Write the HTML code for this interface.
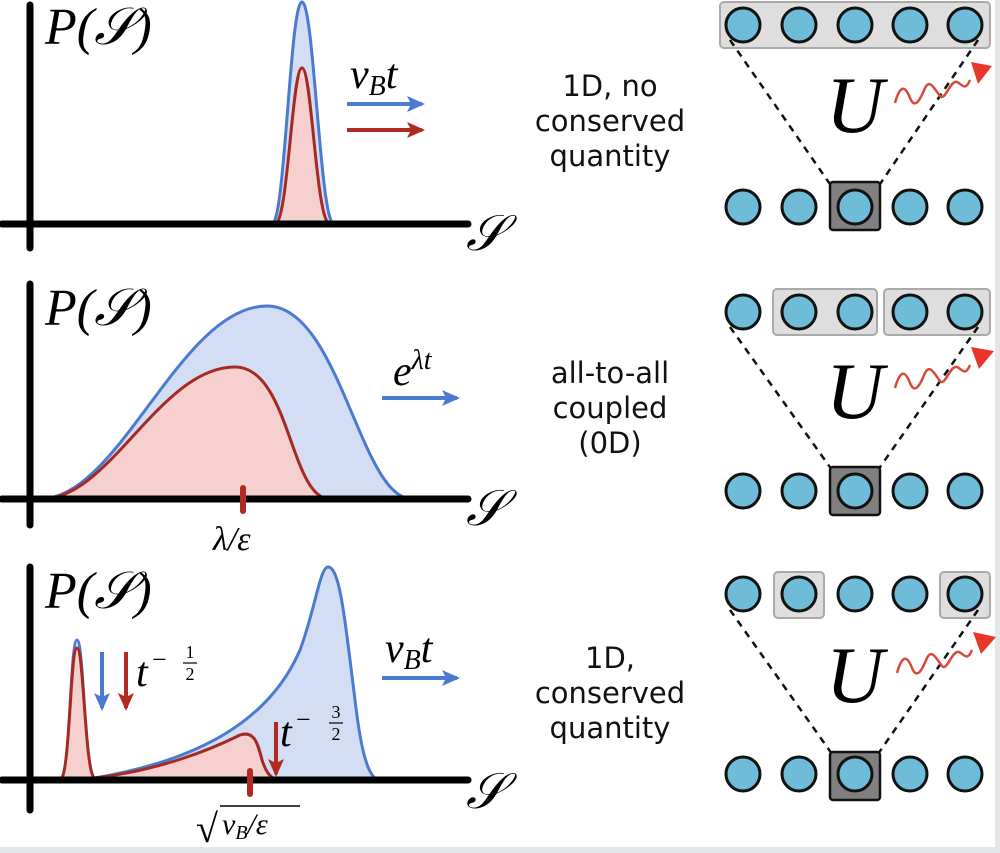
<!DOCTYPE html>
<html><head><meta charset="utf-8"><style>
html,body{margin:0;padding:0;background:#fff;}
svg{display:block;}
.m{font-family:"Liberation Serif",serif;font-style:italic;}
.t{font-family:"DejaVu Sans",sans-serif;font-size:29px;text-anchor:middle;fill:#111;}
</style></head><body>
<svg width="1000" height="853" viewBox="0 0 1000 853" xmlns="http://www.w3.org/2000/svg">
<defs>
<marker id="ab" markerWidth="18" markerHeight="16" refX="15" refY="8" orient="auto" markerUnits="userSpaceOnUse"><path d="M0,0 L18,8 L0,16 L4,8 Z" fill="#4a7bd0"/></marker>
<marker id="ar" markerWidth="18" markerHeight="16" refX="15" refY="8" orient="auto" markerUnits="userSpaceOnUse"><path d="M0,0 L18,8 L0,16 L4,8 Z" fill="#b02a22"/></marker>
<g id="circ"><circle r="17" fill="#6fbcd8" stroke="#111" stroke-width="3"/></g>
</defs>
<rect x="995" y="0" width="5" height="853" fill="#e4e6e8"/>
<rect x="0" y="847" width="1000" height="6" fill="#e4e6e8"/>

<!-- Panel 1 -->
<path d="M272,224 C285,224 290,2 302,2 C314,2 320,224 334,224 Z" fill="#d3def5" stroke="#4a7bd0" stroke-width="3"/>
<path d="M275,224 C288,224 292,68 302,68 C312,68 316,224 330,224 Z" fill="#f6cfcf" stroke="#a52a22" stroke-width="3"/>
<line x1="30" y1="5" x2="30" y2="248" stroke="#000" stroke-width="7" stroke-linecap="round"/>
<line x1="2" y1="224" x2="468" y2="224" stroke="#000" stroke-width="7" stroke-linecap="round"/>
<text x="45" y="44" class="m" font-size="52">P(𝒮)</text>
<text x="466" y="250" class="m" font-size="50">𝒮</text>
<text x="350" y="88" class="m" font-size="42">v<tspan font-size="28" dy="7">B</tspan><tspan dy="-7">t</tspan></text>
<line x1="347" y1="104" x2="422" y2="104" stroke="#4a7bd0" stroke-width="4" marker-end="url(#ab)"/>
<line x1="347" y1="130" x2="422" y2="130" stroke="#b02a22" stroke-width="4" marker-end="url(#ar)"/>
<text class="t" x="610" y="96">1D, no</text>
<text class="t" x="610" y="131">conserved</text>
<text class="t" x="610" y="166">quantity</text>

<!-- Panel 2 -->
<path d="M40,499 C120,499 180,306 267,306 C340,306 360,499 412,499 Z" fill="#d3def5" stroke="#4a7bd0" stroke-width="3"/>
<path d="M42,499 C110,499 160,367 235,367 C290,367 290,499 330,499 Z" fill="#f6cfcf" stroke="#a52a22" stroke-width="3"/>
<line x1="30" y1="284" x2="30" y2="525" stroke="#000" stroke-width="7" stroke-linecap="round"/>
<line x1="2" y1="499" x2="468" y2="499" stroke="#000" stroke-width="7" stroke-linecap="round"/>
<line x1="243" y1="488" x2="243" y2="511" stroke="#b02a22" stroke-width="6" stroke-linecap="round"/>
<text x="45" y="325" class="m" font-size="52">P(𝒮)</text>
<text x="466" y="525" class="m" font-size="50">𝒮</text>
<text x="213" y="550" class="m" font-size="34">λ/ε</text>
<text x="393" y="385" class="m" font-size="42">e<tspan font-size="28" dy="-16">λt</tspan></text>
<line x1="382" y1="398" x2="457" y2="398" stroke="#4a7bd0" stroke-width="4" marker-end="url(#ab)"/>
<text class="t" x="610" y="383">all-to-all</text>
<text class="t" x="610" y="418">coupled</text>
<text class="t" x="610" y="453">(0D)</text>

<!-- Panel 3 -->
<path d="M62,780 C70,780 70,640 77,640 C84,640 84,775 95,778 C200,760 270,720 300,650 C315,610 320,567 328,567 C340,567 345,620 355,700 C362,760 370,780 380,780 Z" fill="#d3def5" stroke="#4a7bd0" stroke-width="3"/>
<path d="M60,780 C70,780 70,648 77,648 C84,648 85,778 95,778 C160,770 210,750 240,735 C255,730 258,745 262,760 C266,772 270,778 278,780 Z" fill="#f6cfcf" stroke="#a52a22" stroke-width="3"/>
<line x1="30" y1="567" x2="30" y2="810" stroke="#000" stroke-width="7" stroke-linecap="round"/>
<line x1="2" y1="780" x2="468" y2="780" stroke="#000" stroke-width="7" stroke-linecap="round"/>
<line x1="250" y1="771" x2="250" y2="794" stroke="#b02a22" stroke-width="6" stroke-linecap="round"/>
<text x="45" y="608" class="m" font-size="52">P(𝒮)</text>
<text x="466" y="808" class="m" font-size="50">𝒮</text>
<text x="196" y="842" font-family="Liberation Serif" font-size="40">√</text>
<line x1="220" y1="806" x2="300" y2="806" stroke="#000" stroke-width="1.5"/>
<text x="222" y="834" class="m" font-size="30">v<tspan font-size="20" dy="5">B</tspan><tspan dy="-5">/ε</tspan></text>
<line x1="102" y1="652" x2="102" y2="708" stroke="#4a7bd0" stroke-width="4" marker-end="url(#ab)"/>
<line x1="126" y1="652" x2="126" y2="708" stroke="#b02a22" stroke-width="4" marker-end="url(#ar)"/>
<text x="136" y="686" class="m" font-size="42">t</text>
<text x="152" y="668" font-family="Liberation Serif" font-size="26">−</text>
<text x="190" y="658" font-family="Liberation Serif" font-size="18" text-anchor="middle">1</text>
<line x1="183" y1="663" x2="197" y2="663" stroke="#000" stroke-width="1.2"/>
<text x="190" y="680" font-family="Liberation Serif" font-size="18" text-anchor="middle">2</text>
<line x1="276" y1="722" x2="276" y2="774" stroke="#b02a22" stroke-width="4" marker-end="url(#ar)"/>
<text x="280" y="746" class="m" font-size="42">t</text>
<text x="296" y="728" font-family="Liberation Serif" font-size="26">−</text>
<text x="336" y="718" font-family="Liberation Serif" font-size="18" text-anchor="middle">3</text>
<line x1="329" y1="723" x2="343" y2="723" stroke="#000" stroke-width="1.2"/>
<text x="336" y="740" font-family="Liberation Serif" font-size="18" text-anchor="middle">2</text>
<text x="385" y="662" class="m" font-size="42">v<tspan font-size="28" dy="7">B</tspan><tspan dy="-7">t</tspan></text>
<line x1="382" y1="678" x2="457" y2="678" stroke="#4a7bd0" stroke-width="4" marker-end="url(#ab)"/>
<text class="t" x="610" y="668">1D,</text>
<text class="t" x="610" y="703">conserved</text>
<text class="t" x="610" y="738">quantity</text>

<!-- Right diagrams -->
<g>
<rect x="720" y="2" width="270" height="46" rx="4" fill="#dedede" stroke="#aaa" stroke-width="2"/>
<line x1="730" y1="40" x2="832" y2="187" stroke="#111" stroke-width="2.5" stroke-dasharray="7,6"/>
<line x1="978" y1="40" x2="878" y2="187" stroke="#111" stroke-width="2.5" stroke-dasharray="7,6"/>
<use href="#circ" x="743" y="25"/><use href="#circ" x="799" y="25"/><use href="#circ" x="855" y="25"/><use href="#circ" x="910" y="25"/><use href="#circ" x="965" y="25"/>
<rect x="830" y="182" width="50" height="48" rx="3" fill="#808080" stroke="#111" stroke-width="2.5"/>
<use href="#circ" x="743" y="207"/><use href="#circ" x="799" y="207"/><use href="#circ" x="855" y="207"/><use href="#circ" x="910" y="207"/><use href="#circ" x="965" y="207"/>
<text x="826" y="132" class="m" font-size="80">U</text>
<path d="M895,103 C900,85 905,85 910,98 C915,110 920,100 925,88 C930,78 935,90 940,96 C945,102 950,80 957,82 C962,84 965,92 970,80" fill="none" stroke="#d84a3a" stroke-width="2.5"/>
<path d="M971,62 L992,66 L978,84 Z" fill="#e8362a"/>
</g>
<g>
<rect x="773" y="289" width="104" height="46" rx="4" fill="#dedede" stroke="#aaa" stroke-width="2"/>
<rect x="884" y="289" width="106" height="46" rx="4" fill="#dedede" stroke="#aaa" stroke-width="2"/>
<line x1="730" y1="327" x2="832" y2="470" stroke="#111" stroke-width="2.5" stroke-dasharray="7,6"/>
<line x1="978" y1="327" x2="878" y2="470" stroke="#111" stroke-width="2.5" stroke-dasharray="7,6"/>
<use href="#circ" x="743" y="312"/><use href="#circ" x="799" y="312"/><use href="#circ" x="855" y="312"/><use href="#circ" x="910" y="312"/><use href="#circ" x="965" y="312"/>
<rect x="830" y="467" width="50" height="48" rx="3" fill="#808080" stroke="#111" stroke-width="2.5"/>
<use href="#circ" x="743" y="491"/><use href="#circ" x="799" y="491"/><use href="#circ" x="855" y="491"/><use href="#circ" x="910" y="491"/><use href="#circ" x="965" y="491"/>
<text x="826" y="418" class="m" font-size="80">U</text>
<path d="M895,388 C900,370 905,370 910,383 C915,395 920,385 925,373 C930,363 935,375 940,381 C945,387 950,365 957,367 C962,369 965,377 970,365" fill="none" stroke="#d84a3a" stroke-width="2.5"/>
<path d="M971,347 L994,351 L979,369 Z" fill="#e8362a"/>
</g>
<g>
<rect x="774" y="572" width="50" height="46" rx="4" fill="#dedede" stroke="#aaa" stroke-width="2"/>
<rect x="940" y="572" width="50" height="46" rx="4" fill="#dedede" stroke="#aaa" stroke-width="2"/>
<line x1="730" y1="610" x2="832" y2="754" stroke="#111" stroke-width="2.5" stroke-dasharray="7,6"/>
<line x1="978" y1="610" x2="878" y2="754" stroke="#111" stroke-width="2.5" stroke-dasharray="7,6"/>
<use href="#circ" x="743" y="594"/><use href="#circ" x="799" y="594"/><use href="#circ" x="855" y="594"/><use href="#circ" x="910" y="594"/><use href="#circ" x="965" y="594"/>
<rect x="830" y="752" width="50" height="48" rx="3" fill="#808080" stroke="#111" stroke-width="2.5"/>
<use href="#circ" x="743" y="774"/><use href="#circ" x="799" y="774"/><use href="#circ" x="855" y="774"/><use href="#circ" x="910" y="774"/><use href="#circ" x="965" y="774"/>
<text x="826" y="702" class="m" font-size="80">U</text>
<path d="M897,673 C902,655 907,655 912,668 C917,680 922,670 927,658 C932,648 937,660 942,666 C947,672 952,650 959,652 C964,654 967,662 972,650" fill="none" stroke="#d84a3a" stroke-width="2.5"/>
<path d="M973,632 L996,637 L981,654 Z" fill="#e8362a"/>
</g>
</svg>
</body></html>
